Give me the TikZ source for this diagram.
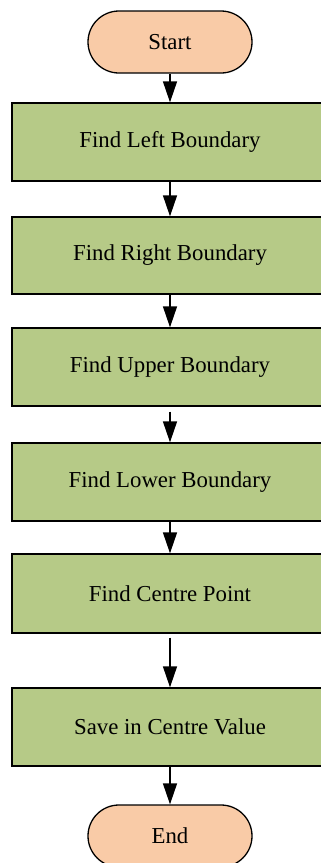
\documentclass[tikz,border=0pt]{standalone}
\usepackage{fontspec}
\setmainfont{Liberation Serif}
\usetikzlibrary{arrows.meta,shapes.misc}
\definecolor{termfill}{RGB}{249,203,167}
\definecolor{procfill}{RGB}{182,202,135}
\tikzset{
  terminal/.style={rounded rectangle, draw=black, line width=1.3pt, fill=termfill,
    minimum width=164pt, minimum height=62pt, inner sep=0pt, font=\fontsize{22.8}{26}\selectfont},
  procbox/.style={rectangle, draw=black, line width=1.3pt, fill=procfill,
    minimum width=316pt, inner sep=0pt, font=\fontsize{22.8}{26}\selectfont},
  flow/.style={line width=1.3pt, -{Triangle[length=21pt,width=14pt]}}
}
\begin{document}
\begin{tikzpicture}[x=1pt,y=-1pt]
  \useasboundingbox (0,0) rectangle (321,863);
  \node[terminal] (start) at (170,42) {Start};
  \node[procbox, minimum height=78pt] (left)  at (170,142)   {Find Left Boundary};
  \node[procbox, minimum height=77pt] (right) at (170,255.5) {Find Right Boundary};
  \node[procbox, minimum height=78pt] (upper) at (170,367)   {Find Upper Boundary};
  \node[procbox, minimum height=78pt] (lower) at (170,482)   {Find Lower Boundary};
  \node[procbox, minimum height=79pt] (centre) at (170,593.5) {Find Centre Point};
  \node[procbox, minimum height=78pt] (save) at (170,727)    {Save in Centre Value};
  \node[terminal] (end) at (170,836) {End};
  \draw[flow] (start.south) -- (left.north);
  \draw[flow] (left.south) -- (right.north);
  \draw[flow] (right.south) -- (upper.north);
  \draw[flow, shorten <=5pt] (upper.south) -- (lower.north);
  \draw[flow] (lower.south) -- (centre.north);
  \draw[flow, shorten <=4pt] (centre.south) -- (save.north);
  \draw[flow] (save.south) -- (end.north);
\end{tikzpicture}
\end{document}
